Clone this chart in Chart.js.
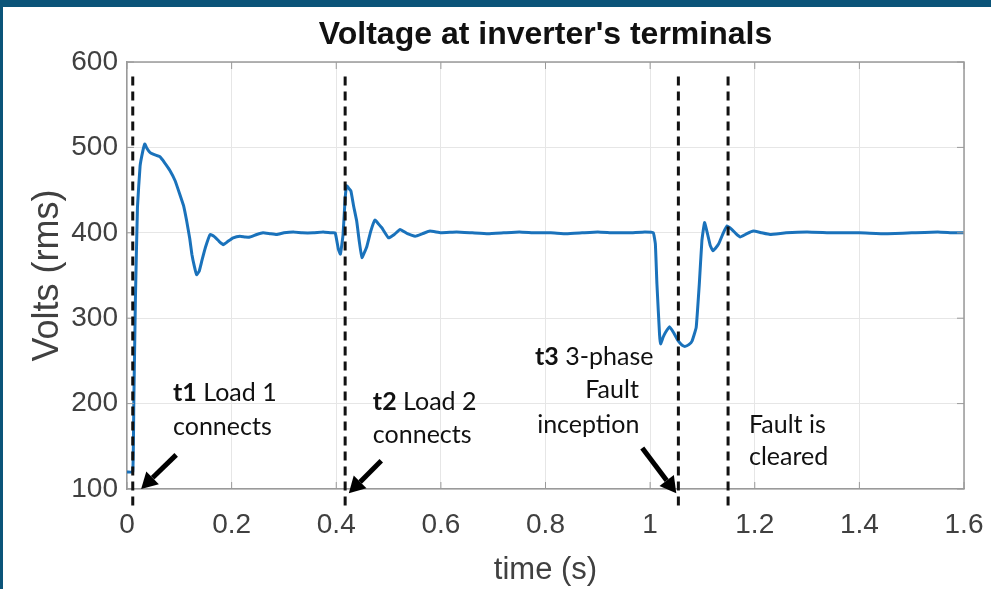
<!DOCTYPE html>
<html><head><meta charset="utf-8">
<script src="https://cdn.jsdelivr.net/npm/chart.js@4/dist/chart.umd.min.js"></script>
<style>html,body{margin:0;padding:0;background:#fff;}#wrap{width:991px;height:589px;position:relative;}</style>
</head><body><div id="wrap"><canvas id="c" width="991" height="589"></canvas></div>
<script>
// ---- data ----
const timeS = [0, 0.011, 0.013, 0.016, 0.02, 0.025, 0.03, 0.034, 0.038, 0.044,
  0.05, 0.063, 0.072, 0.082, 0.092, 0.101, 0.108, 0.114, 0.12, 0.124,
  0.129, 0.133, 0.138, 0.143, 0.15, 0.159, 0.168, 0.176, 0.184, 0.193,
  0.203, 0.216, 0.226, 0.235, 0.248, 0.26, 0.273, 0.286, 0.3, 0.318,
  0.335, 0.356, 0.375, 0.39, 0.398, 0.404, 0.408, 0.413, 0.417, 0.42,
  0.424, 0.428, 0.433, 0.439, 0.444, 0.449, 0.458, 0.466, 0.474, 0.48,
  0.487, 0.5, 0.511, 0.522, 0.536, 0.551, 0.565, 0.579, 0.6, 0.63,
  0.66, 0.69, 0.72, 0.75, 0.78, 0.81, 0.84, 0.87, 0.9, 0.93,
  0.96, 0.99, 1.006, 1.01, 1.013, 1.018, 1.02, 1.025, 1.029, 1.037,
  1.045, 1.052, 1.057, 1.062, 1.067, 1.074, 1.08, 1.088, 1.094, 1.099,
  1.104, 1.11, 1.115, 1.12, 1.125, 1.131, 1.14, 1.147, 1.156, 1.164,
  1.172, 1.185, 1.197, 1.213, 1.229, 1.26, 1.3, 1.35, 1.4, 1.45,
  1.5, 1.55, 1.58, 1.6];
const voltsRms = [120, 120, 200, 320, 430, 478, 495, 504, 499, 494,
  492, 489, 482, 473, 461, 445, 432, 414, 393, 375,
  360, 351, 355, 367, 383, 398, 395, 390, 386, 390,
  394, 396, 395, 395, 398, 400, 399, 398, 400, 401,
  400, 400, 401, 400, 400, 381, 375, 398, 440, 455,
  452, 449, 432, 414, 390, 371, 383, 402, 415, 411,
  406, 394, 398, 404, 399, 396, 399, 402, 400, 401,
  400, 399, 400, 401, 400, 400, 399, 400, 401, 400,
  400, 401, 400, 387, 340, 281, 270, 278, 283, 290,
  283, 275, 271, 268, 267, 269, 273, 289, 340, 391,
  412, 398, 385, 379, 382, 387, 400, 408, 404, 399,
  395, 399, 402, 400, 398, 400, 401, 400, 400, 399,
  400, 401, 400, 400];
const eventTimes = [0.011, 0.417, 1.054, 1.149];
const xTickValues = [0, 0.2, 0.4, 0.6, 0.8, 1, 1.2, 1.4, 1.6];
const xTickLabels = ['0', '0.2', '0.4', '0.6', '0.8', '1', '1.2', '1.4', '1.6'];
const yTickValues = [100, 200, 300, 400, 500, 600];
const titleText = "Voltage at inverter's terminals";
const xTitle = 'time (s)';
const yTitle = 'Volts (rms)';
// annotation texts: bold part + normal part per line
const notes = [
  {t: 0.088, lines: [{v: 212, b: 't1', n: ' Load 1'}, {v: 173, b: '', n: 'connects'}]},
  {t: 0.470, lines: [{v: 202, b: 't2', n: ' Load 2'}, {v: 163, b: '', n: 'connects'}]},
  {t: 0.780, lines: [{v: 255, b: 't3', n: ' 3-phase'}, {v: 216, b: '', n: 'Fault', dt: 0.096}, {v: 175, b: '', n: 'inception', dt: 0.004}]},
  {t: 1.189, lines: [{v: 175, b: '', n: 'Fault is'}, {v: 137, b: '', n: 'cleared'}]}
];
const arrows = [
  {t0: 0.094, v0: 140, t1: 0.027, v1: 100},
  {t0: 0.486, v0: 133, t1: 0.424, v1: 95},
  {t0: 0.985, v0: 148, t1: 1.050, v1: 95}
];

const points = timeS.map((t, i) => ({x: t, y: voltsRms[i]}));

const overlay = {
  id: 'overlay',
  beforeDraw(chart) {
    const ctx = chart.ctx;
    ctx.save();
    ctx.fillStyle = '#fff';
    ctx.fillRect(0, 0, chart.width, chart.height);
    ctx.restore();
  },
  afterDatasetsDraw(chart) {
    const ctx = chart.ctx, xs = chart.scales.x, ys = chart.scales.y, a = chart.chartArea;
    ctx.save();
    ctx.strokeStyle = '#9a9a9a'; ctx.lineWidth = 1.5;
    ctx.beginPath();
    ctx.moveTo(a.left, a.top); ctx.lineTo(a.right, a.top); ctx.lineTo(a.right, a.bottom);
    ctx.stroke();
    ctx.lineWidth = 1;
    ctx.beginPath();
    xTickValues.forEach(v => {
      const px = xs.getPixelForValue(v);
      ctx.moveTo(px, a.bottom); ctx.lineTo(px, a.bottom - 7);
      ctx.moveTo(px, a.top); ctx.lineTo(px, a.top + 7);
    });
    yTickValues.forEach(v => {
      const py = ys.getPixelForValue(v);
      ctx.moveTo(a.left, py); ctx.lineTo(a.left + 7, py);
      ctx.moveTo(a.right, py); ctx.lineTo(a.right - 7, py);
    });
    ctx.stroke();
    ctx.strokeStyle = '#111'; ctx.lineWidth = 3; ctx.setLineDash([9, 6]);
    eventTimes.forEach(t => {
      const px = xs.getPixelForValue(t);
      ctx.beginPath();
      ctx.moveTo(px, ys.getPixelForValue(583));
      ctx.lineTo(px, ys.getPixelForValue(75));
      ctx.stroke();
    });
    ctx.setLineDash([]);
    ctx.fillStyle = '#111';
    ctx.textBaseline = 'middle';
    notes.forEach(n => {
      n.lines.forEach(l => {
        let x = xs.getPixelForValue(n.t + (l.dt || 0));
        const y = ys.getPixelForValue(l.v);
        if (l.b) {
          ctx.font = 'bold 25px Lato';
          ctx.fillText(l.b, x, y);
          x += ctx.measureText(l.b).width;
        }
        ctx.font = '25px Lato';
        ctx.fillText(l.n, x, y);
      });
    });
    arrows.forEach(ar => {
      const x0 = xs.getPixelForValue(ar.t0), y0 = ys.getPixelForValue(ar.v0);
      const x1 = xs.getPixelForValue(ar.t1), y1 = ys.getPixelForValue(ar.v1);
      const ang = Math.atan2(y1 - y0, x1 - x0);
      const hl = 16, hw = 9;
      const bx = x1 - hl * Math.cos(ang), by = y1 - hl * Math.sin(ang);
      ctx.strokeStyle = '#000'; ctx.fillStyle = '#000'; ctx.lineWidth = 5;
      ctx.beginPath(); ctx.moveTo(x0, y0); ctx.lineTo(bx, by); ctx.stroke();
      ctx.beginPath();
      ctx.moveTo(x1, y1);
      ctx.lineTo(bx + hw * Math.sin(ang), by - hw * Math.cos(ang));
      ctx.lineTo(bx - hw * Math.sin(ang), by + hw * Math.cos(ang));
      ctx.closePath(); ctx.fill();
    });
    ctx.restore();
  },
  afterDraw(chart) {
    const ctx = chart.ctx, a = chart.chartArea;
    ctx.save();
    ctx.fillStyle = '#111';
    ctx.font = 'bold 32px "Liberation Sans"';
    ctx.textAlign = 'center'; ctx.textBaseline = 'middle';
    ctx.fillText(titleText, (a.left + a.right) / 2, 35);
    ctx.fillStyle = '#0b5479';
    ctx.fillRect(0, 0, chart.width, 7);
    ctx.fillRect(0, 0, 3, chart.height);
    ctx.restore();
  }
};

new Chart(document.getElementById('c'), {
  type: 'line',
  data: {datasets: [{
    data: points,
    borderColor: '#1a72bb',
    borderWidth: 3,
    pointRadius: 0,
    tension: 0.1,
    fill: false
  }]},
  options: {
    responsive: false,
    animation: false,
    devicePixelRatio: 1,
    layout: {padding: {left: 0, top: 62, right: 27, bottom: 0}},
    plugins: {legend: {display: false}, tooltip: {enabled: false}, title: {display: false}},
    scales: {
      x: {
        type: 'linear', min: 0, max: 1.6,
        afterBuildTicks: s => { s.ticks = xTickValues.map(v => ({value: v})); },
        afterFit: s => { s.height = 100; s.paddingLeft = 0; s.paddingRight = 0; },
        ticks: {
          callback: (v) => { const i = xTickValues.indexOf(Math.round(v * 10) / 10); return i >= 0 ? xTickLabels[i] : ''; },
          color: '#404040', font: {family: 'Liberation Sans', size: 28}, padding: 19, maxRotation: 0
        },
        grid: {color: '#e6e6e6', lineWidth: 1, drawTicks: false},
        border: {display: true, color: '#9a9a9a', width: 1.5},
        title: {display: true, text: xTitle, color: '#404040', font: {family: 'Liberation Sans', size: 31}, padding: {top: 0, bottom: 0}}
      },
      y: {
        type: 'linear', min: 100, max: 600,
        afterBuildTicks: s => { s.ticks = yTickValues.map(v => ({value: v})); },
        afterFit: s => { s.width = 127; s.paddingTop = 0; s.paddingBottom = 0; },
        ticks: {color: '#404040', font: {family: 'Liberation Sans', size: 28}, padding: 9},
        grid: {color: '#e6e6e6', lineWidth: 1, drawTicks: false},
        border: {display: true, color: '#9a9a9a', width: 1.5},
        title: {display: true, text: yTitle, color: '#404040', font: {family: 'Liberation Sans', size: 36}, padding: {top: 26, bottom: 0}}
      }
    }
  },
  plugins: [overlay]
});
</script></body></html>
